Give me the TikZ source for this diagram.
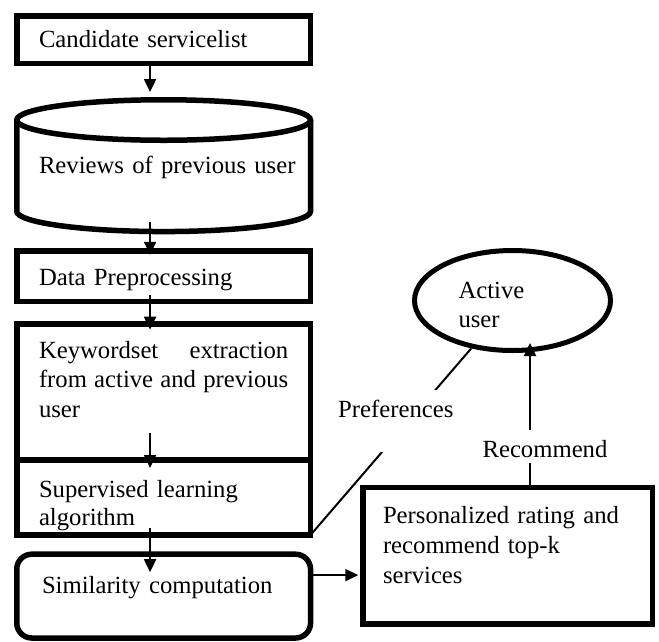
\documentclass[tikz,border=0pt]{standalone}
\usepackage{fontspec}
\setmainfont{Liberation Serif}
\usetikzlibrary{arrows.meta,shapes.geometric}
\begin{document}
\begin{tikzpicture}[x=1pt,y=-1pt,
  font=\fontsize{24.7pt}{29.5pt}\selectfont,
  box/.style={draw, line width=5.5pt, rectangle, inner ysep=0pt, inner xsep=22.25pt,
    text width=249.3pt, align=left, anchor=north west, outer sep=0pt},
  boxline/.style={line width=5.5pt},
  arr/.style={line width=2pt, -{Triangle[width=12pt,length=13pt]}},
  thinline/.style={line width=2pt},
  lbl/.style={fill=white, inner sep=0pt}]
\useasboundingbox (0,0) rectangle (659,641);

% boxes
\node[box, text height=31.2pt, text depth=16.5pt] (cand) at (16.75,15.8) {\mbox{Candidate servicelist}};
\node[box, draw=none, text height=53pt, text depth=38.3pt] (rev) at (16.75,120) {\mbox{Reviews of previous user}};
\draw[boxline] (rev.north west) -- (rev.south west)
  arc[start angle=180, end angle=360, x radius=146.9pt, y radius=20.25pt] -- (rev.north east);
\draw[boxline] (rev.north) ellipse[x radius=146.9pt, y radius=20.25pt];
\node[box, text height=34.2pt, text depth=16.5pt] (data) at (16.75,250.8) {\mbox{Data Preprocessing}};
\node[box, align=justify, text height=33.8pt, text depth=102pt] (kw) at (16.75,324.2)
  {Keywordset extraction from active and previous user};
\node[box, font=\fontsize{24.7pt}{28pt}\selectfont, text height=37pt, text depth=38pt] (sup) at (16.75,460)
  {Supervised learning\\algorithm};
\node[box, rounded corners=15pt, inner xsep=25.25pt, text width=243.3pt, text height=38.8pt, text depth=45pt] (sim) at (16.75,554.2)
  {\mbox{Similarity computation}};
\node[box, inner xsep=20.25pt, text width=249pt, font=\fontsize{24.7pt}{30pt}\selectfont,
  text height=35.5pt, text depth=101.2pt] (pers) at (362.75,487.5)
  {Personalized rating and\\recommend top-k\\services};
\node[draw, ellipse, line width=5pt, minimum width=196pt, minimum height=100pt, inner sep=0pt,
  text width=108pt, align=left, font=\fontsize{24.7pt}{29pt}\selectfont,
  text height=20pt, text depth=25pt] (act) at (512.5,300.5) {Active\\user};

% vertical flow arrows
\draw[arr] ([xshift=-13.6pt]cand.south) -- ([xshift=-13.6pt,yshift=28pt]rev.north);
\draw[arr] ([xshift=-13.6pt,yshift=-10.7pt]rev.south) -- ([xshift=-13.6pt,yshift=-4pt]data.north);
\draw[arr] ([xshift=-13.6pt,yshift=6.5pt]data.south) -- ([xshift=-13.6pt,yshift=-5.5pt]kw.north);
\draw[arr] ([xshift=-13.6pt,yshift=27pt]kw.south) -- ([xshift=-13.6pt,yshift=-8pt]sup.north);
\draw[arr] ([xshift=-13.6pt,yshift=7pt]sup.south) -- ([xshift=-13.6pt,yshift=-18pt]sim.north);

% similarity -> personalized
\coordinate (simout) at ([yshift=21pt]sim.east);
\draw[arr, shorten >=4.5pt] (simout) -- (simout -| pers.west);

% recommend
\draw[arr] ([xshift=22.5pt]pers.north) -- ([xshift=17.5pt,yshift=10pt]act.south);
\node[lbl, inner xsep=1pt, text height=27pt, text depth=6pt, anchor=base] (rec) at (545,457) {Recommend};

% preferences
\draw[thinline] (sup.south east) -- (act);
\node[lbl, text height=27pt, text depth=35pt, anchor=base west] (pref) at (338,417) {Preferences};
\end{tikzpicture}
\end{document}
